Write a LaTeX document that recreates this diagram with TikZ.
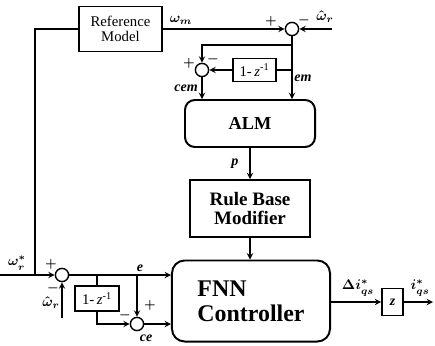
\documentclass[tikz,border=0pt]{standalone}
\usepackage{fontspec}
\setmainfont{Liberation Serif}
\usepackage{tikz}
\usetikzlibrary{arrows, positioning, shapes, calc}
\tikzstyle{block} = [rectangle, draw, line width=1pt, inner sep=0pt, align=center]
\tikzstyle{rblock} = [rectangle, draw, rounded corners=7pt, line width=1.4pt, inner sep=0pt]
\tikzstyle{summer} = [circle, draw, line width=1pt, minimum size=0.33cm, inner sep=0pt]
\tikzstyle{lbl} = [font=\fontsize{10}{10}\selectfont\bfseries\itshape, inner sep=0pt]
\tikzstyle{mlbl} = [font=\boldmath, inner sep=0pt]
\tikzstyle{sgn} = [font=\small\boldmath, inner sep=0pt]
\tikzstyle{arrow} = [->, >=stealth, line width=1pt]
\tikzstyle{line} = [-, line width=1pt]

\begin{document}
\begin{tikzpicture}[x=0.025cm, y=-0.025cm]
        \useasboundingbox (0,0) rectangle (435,345);

        % Reference model
        \node[block, minimum width=2.08cm, minimum height=1.13cm, font=\fontsize{10.5}{10.5}\selectfont] (refmodel) at (120.5,29) {Reference\\Model};

        % Summing junctions
        \node[summer] (s1) at (292,29) {};
        \node[summer] (s2) at (202,70) {};
        \node[summer] (s3) at (62,275) {};
        \node[summer] (s4) at (137,324) {};

        % Delay blocks
        \node[block, minimum width=1.075cm, minimum height=0.575cm, font=\fontsize{10.5}{10.5}\selectfont] (delay1) at (254.5,70) {1-\,\textit{z}\textsuperscript{-1}};
        \node[block, minimum width=1.1cm, minimum height=0.625cm, font=\fontsize{10.5}{10.5}\selectfont] (delay2) at (97,298.5) {1-\,\textit{z}\textsuperscript{-1}};

        % ALM, rule base and controller
        \node[rblock, minimum width=3.25cm, minimum height=1.175cm, font=\fontsize{13}{13}\selectfont\bfseries] (alm) at (250,123.5) {ALM};
        \node[block, line width=1.3pt, minimum width=3cm, minimum height=1.425cm, font=\fontsize{13.5}{14}\selectfont\bfseries] (rbm) at (250,208.5) {Rule Base\\Modifier};
        \node[rblock, rounded corners=9pt, align=left, minimum width=3.95cm, minimum height=2.025cm, font=\fontsize{17}{18}\selectfont\bfseries] (fnn) at (251,301) {FNN\\Controller};
        \node[block, line width=1.2pt, minimum width=0.525cm, minimum height=0.675cm, font=\fontsize{10}{10}\selectfont\bfseries] (zbox) at (392.5,302) {\textit{z}};

        % Free ends
        \coordinate (in) at (0,275);
        \coordinate (tap) at (35,275);
        \coordinate (wr1) at (332,29);
        \coordinate (wr2) at (62,318);
        \coordinate (out) at (433,302);

        % Upper loop
        \draw[line] (in) -- (tap);
        \draw[line] (tap) |- (refmodel.west);
        \draw[arrow] (refmodel.east) -- (s1);
        \draw[arrow] (wr1) -- (s1);
        \draw[arrow] (s1) -- (s1 |- alm.north);
        \draw[arrow] ($(s1)+(0,16)$) -| (s2);
        \draw[line] ($(s1)+(0,41)$) -- (delay1.east);
        \draw[arrow] (delay1) -- (s2);
        \draw[arrow] (s2) -- (s2 |- alm.north);
        \draw[arrow] (alm.south) -- (rbm.north);
        \draw[arrow] (rbm.south) -- (rbm.south |- fnn.north);

        % Lower loop
        \draw[arrow] (tap) -- (s3);
        \draw[arrow] (wr2) -- (s3);
        \draw[arrow] (s3) -- (s3 -| fnn.west);
        \draw[line] ($(s3)+(35,0)$) -- (delay2);
        \draw[arrow] (delay2.south) |- (s4);
        \draw[arrow] ($(s3)+(75,0)$) -- (s4);
        \draw[arrow] (s4) -- (s4 -| fnn.west);

        % Output
        \draw[arrow] (fnn.east |- zbox) -- (zbox);
        \draw[arrow] (zbox) -- (out);

        % Labels
        \node[mlbl] (lwm) at (181,20) {$\omega_m$};
        \node[sgn] (p1) at (271,21) {$+$};
        \node[sgn] (m1) at (304,20) {$-$};
        \node[mlbl] (lwr1) at (325,17) {$\hat{\omega}_r$};
        \node[sgn] (p2) at (189,63) {$+$};
        \node[sgn] (m2) at (213,59) {$-$};
        \node[lbl] (lem) at (303,78) {em};
        \node[lbl] (lcem) at (186,88) {cem};
        \node[lbl] (lp) at (235,164) {p};
        \node[mlbl] (lwref) at (17,263) {$\omega_r^{*}$};
        \node[sgn] (p3) at (51,264) {$+$};
        \node[sgn] (m3) at (53,288) {$-$};
        \node[mlbl] (lwr2) at (51,303) {$\hat{\omega}_r$};
        \node[lbl] (le) at (140,268) {e};
        \node[sgn] (p4) at (150,305) {$+$};
        \node[sgn] (m4) at (125,315) {$-$};
        \node[lbl] (lce) at (146,338) {ce};
        \node[mlbl] (ldi) at (358,288) {$\Delta i_{qs}^{*}$};
        \node[mlbl] (liq) at (420,288) {$i_{qs}^{*}$};
\end{tikzpicture}
\end{document}
